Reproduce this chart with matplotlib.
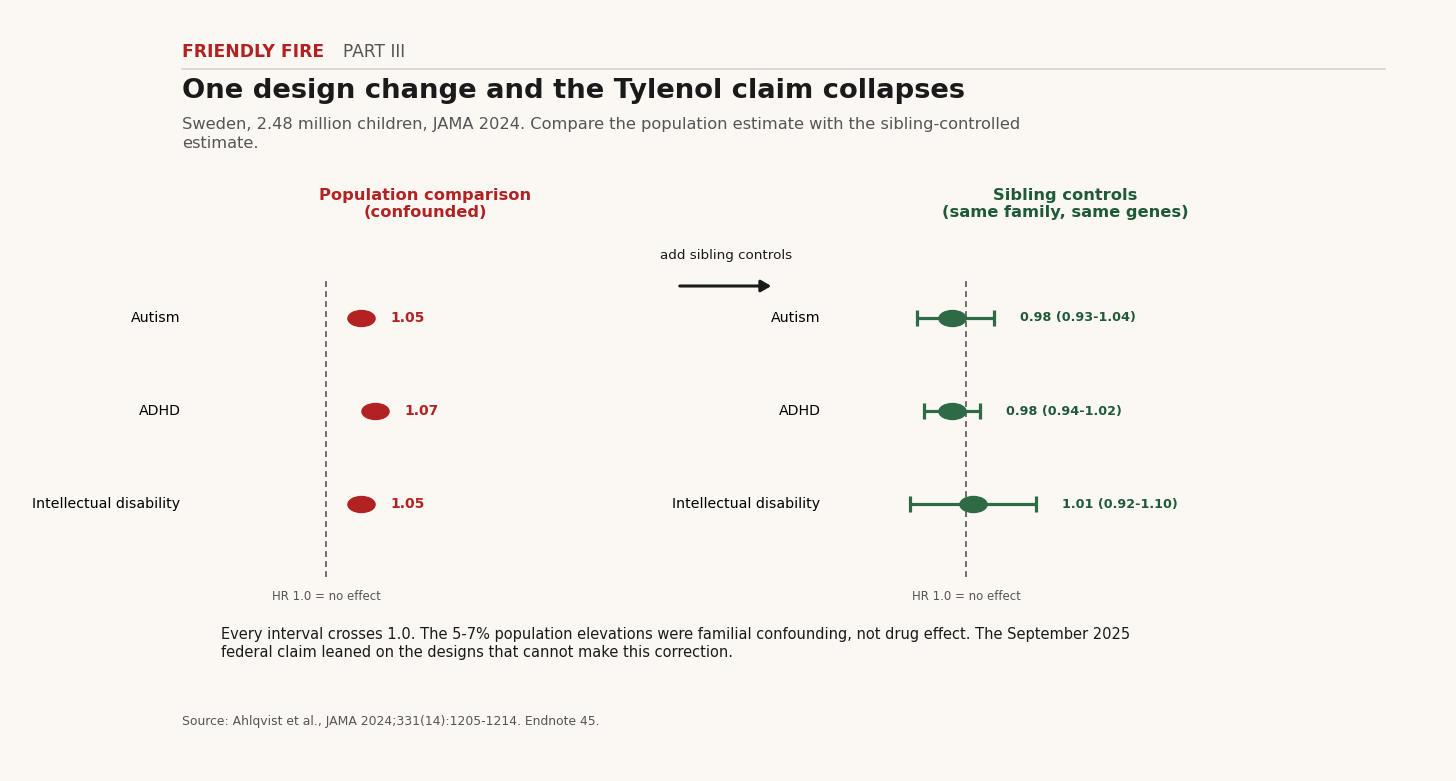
import matplotlib
matplotlib.use("Agg")
import matplotlib.pyplot as plt
from matplotlib.markers import MarkerStyle
from matplotlib.transforms import Affine2D

# data
outcomes = ["Autism", "ADHD", "Intellectual disability"]
pop_hr = [1.05, 1.07, 1.05]
sib_hr = [0.98, 0.98, 1.01]
sib_lo = [0.93, 0.94, 0.92]
sib_hi = [1.04, 1.02, 1.10]

BG = "#fbf8f3"
RED = "#b22222"
GREEN = "#2d6a45"
GREEN_TXT = "#1f5a38"
GRAY = "#555555"

W, H = 1456, 781
fig = plt.figure(figsize=(W / 100, H / 100), dpi=100, facecolor=BG)


def fx(px):
    return px / W


def fy(py):
    return 1 - py / H


# header
fig.text(fx(182), fy(52), "FRIENDLY FIRE", color=RED, fontsize=12.3, fontweight="bold", va="center")
fig.text(fx(343), fy(52), "PART III", color=GRAY, fontsize=12.3, va="center")
fig.add_artist(plt.Line2D([fx(182), fx(1385)], [fy(69), fy(69)], color="#d9d2cc", lw=1.2))
fig.text(fx(182), fy(91), "One design change and the Tylenol claim collapses",
         color="#1a1a1a", fontsize=19.7, fontweight="bold", va="center")
fig.text(fx(182), fy(134), "Sweden, 2.48 million children, JAMA 2024. Compare the population estimate with the sibling-controlled\nestimate.",
         color=GRAY, fontsize=11.7, va="center", linespacing=1.25)

ellipse = MarkerStyle("o", transform=Affine2D().scale(1.7, 1))
ypos = list(range(len(outcomes)))


def setup(ax):
    ax.set_facecolor(BG)
    ax.set_xlim(0.8, 1.5)
    ax.set_ylim(2.78, -0.44)
    for s in ax.spines.values():
        s.set_visible(False)
    ax.set_xticks([])
    ax.set_yticks(ypos)
    ax.set_yticklabels(outcomes, fontsize=10.2)
    ax.tick_params(axis="y", length=0, pad=4)
    for t in ax.get_yticklabels():
        t.set_va("center")
    ax.axvline(1.0, color=GRAY, ls=(0, (3.5, 2.5)), lw=1.2)
    ax.text(1.0, -0.065, "HR 1.0 = no effect", transform=ax.get_xaxis_transform(),
            ha="center", va="center", fontsize=8.5, color=GRAY)


# left panel: population comparison
ax1 = fig.add_axes([fx(186), fy(577), fx(490), 300 / H])
setup(ax1)
ax1.scatter(pop_hr, ypos, marker=ellipse, s=11.5 ** 2, color=RED, zorder=3)
for hr, y in zip(pop_hr, ypos):
    ax1.annotate(f"{hr:.2f}", (hr, y), xytext=(21, 0), textcoords="offset points",
                 ha="left", va="center", fontsize=10, fontweight="bold", color=RED)

# right panel: sibling controls
ax2 = fig.add_axes([fx(826), fy(577), fx(490), 300 / H])
setup(ax2)
xerr = [[h - l for h, l in zip(sib_hr, sib_lo)], [u - h for h, u in zip(sib_hr, sib_hi)]]
ax2.errorbar(sib_hr, ypos, xerr=xerr, fmt="none", ecolor=GREEN, elinewidth=2.3,
             capsize=6, capthick=2.3, zorder=2)
ax2.scatter(sib_hr, ypos, marker=ellipse, s=11.5 ** 2, color=GREEN, zorder=3)
for hr, lo, hi, y in zip(sib_hr, sib_lo, sib_hi, ypos):
    ax2.annotate(f"{hr:.2f} ({lo:.2f}-{hi:.2f})", (hi, y), xytext=(19, 0),
                 textcoords="offset points", ha="left", va="center",
                 fontsize=9.15, fontweight="bold", color=GREEN_TXT)

# panel titles
fig.text(fx(425), fy(204), "Population comparison\n(confounded)", color=RED, fontsize=11.7,
         fontweight="bold", ha="center", va="center", linespacing=1.1)
fig.text(fx(1065), fy(204), "Sibling controls\n(same family, same genes)", color=GREEN_TXT,
         fontsize=11.7, fontweight="bold", ha="center", va="center", linespacing=1.1)

# arrow between panels
fig.text(fx(726), fy(256), "add sibling controls", fontsize=9.7, ha="center", va="center", color="#1a1a1a")
fig.add_artist(matplotlib.patches.FancyArrowPatch((fx(677), fy(286)), (fx(774), fy(286)),
               transform=fig.transFigure, arrowstyle="-|>,head_length=6,head_width=3.5",
               color="#1a1a1a", lw=2.2))

# footnotes
fig.text(fx(221), fy(644), "Every interval crosses 1.0. The 5-7% population elevations were familial confounding, not drug effect. The September 2025\nfederal claim leaned on the designs that cannot make this correction.",
         fontsize=10.5, va="center", color="#1a1a1a", linespacing=1.25)
fig.text(fx(182), fy(722), "Source: Ahlqvist et al., JAMA 2024;331(14):1205-1214. Endnote 45.",
         fontsize=8.9, va="center", color=GRAY)

fig.savefig("out.png", dpi=100, facecolor=BG)
